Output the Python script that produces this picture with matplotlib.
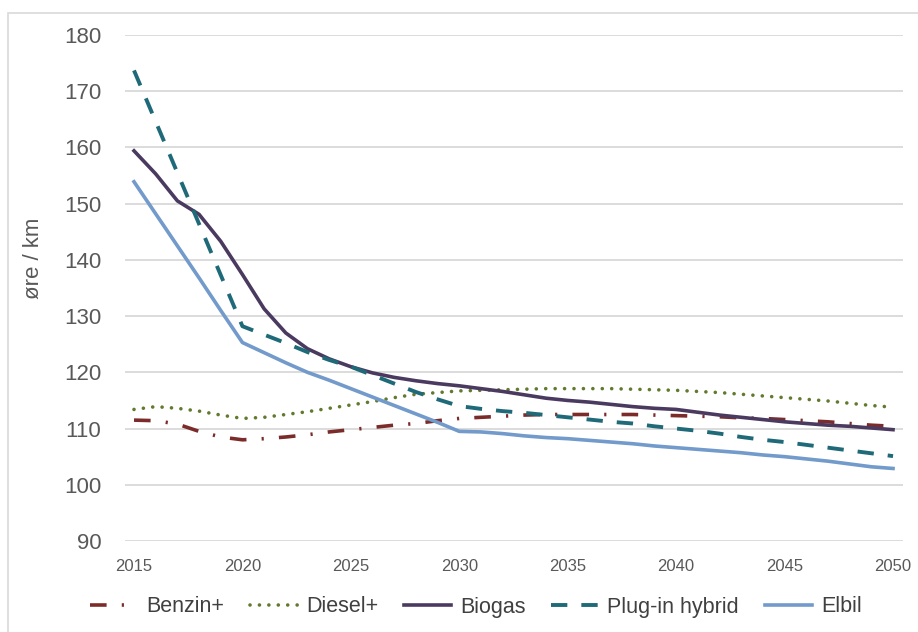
import matplotlib
matplotlib.use("Agg")
import matplotlib.pyplot as plt
from matplotlib.patches import Rectangle

years = list(range(2015, 2051))

benzin = [111.5, 111.4, 110.8, 109.5, 108.5, 108.0, 108.2, 108.5, 108.9, 109.4,
          109.8, 110.2, 110.6, 110.9, 111.4, 111.8, 112.0, 112.2, 112.4, 112.5,
          112.5, 112.5, 112.5, 112.5, 112.4, 112.3, 112.2, 112.1, 111.9, 111.8,
          111.6, 111.4, 111.2, 110.9, 110.6, 110.4]
diesel = [113.4, 113.9, 113.6, 113.1, 112.4, 111.8, 112.0, 112.5, 113.0, 113.6,
          114.2, 114.8, 115.5, 116.1, 116.4, 116.7, 116.8, 116.9, 117.0, 117.1,
          117.1, 117.1, 117.1, 117.0, 116.9, 116.8, 116.6, 116.4, 116.1, 115.8,
          115.5, 115.2, 114.9, 114.5, 114.1, 113.8]
biogas = [159.4, 155.3, 150.5, 148.1, 143.3, 137.4, 131.3, 127.0, 124.2, 122.4,
          121.0, 119.9, 119.1, 118.5, 118.0, 117.6, 117.1, 116.6, 116.0, 115.4,
          115.0, 114.7, 114.3, 113.9, 113.6, 113.4, 112.9, 112.4, 112.0, 111.6,
          111.2, 110.9, 110.6, 110.4, 110.1, 109.8]
plugin = [173.7, 164.6, 155.5, 146.4, 137.3, 128.2, 126.7, 125.2, 123.6, 122.2,
          121.0, 119.5, 118.0, 116.5, 115.2, 114.0, 113.5, 113.1, 112.8, 112.4,
          112.0, 111.6, 111.2, 110.9, 110.4, 110.0, 109.6, 109.1, 108.5, 108.0,
          107.6, 107.1, 106.6, 106.1, 105.6, 105.1]
elbil = [153.9, 148.2, 142.5, 136.8, 131.0, 125.3, 123.5, 121.7, 120.0, 118.6,
         117.1, 115.6, 114.1, 112.6, 111.1, 109.5, 109.4, 109.1, 108.7, 108.4,
         108.2, 107.9, 107.6, 107.3, 106.9, 106.6, 106.3, 106.0, 105.7, 105.3,
         105.0, 104.6, 104.2, 103.7, 103.2, 102.9]

xticks = [2015, 2020, 2025, 2030, 2035, 2040, 2045, 2050]
yticks = [90, 100, 110, 120, 130, 140, 150, 160, 170, 180]

plt.rcParams['font.family'] = ['Liberation Sans', 'DejaVu Sans']

fig = plt.figure(figsize=(9.18, 6.32), dpi=100)
# chart-area frame (left and top edges visible)
fig.patches.append(Rectangle((8 / 918, -0.1), 1.2, (632 - 13) / 632 + 0.1,
                             transform=fig.transFigure, fill=False,
                             edgecolor='#D9D9D9', linewidth=1.2))

ax = fig.add_axes([125 / 918, 91 / 632, 778 / 918, 506 / 632])

lw = 2.6
ax.plot(years, benzin, color='#7B2C2A', lw=lw, linestyle=(0, (4.6, 4.2, 0.6, 4.2)),
        dash_capstyle='butt', label='Benzin+')
ax.plot(years, diesel, color='#627A2E', lw=lw, linestyle=(0, (0.01, 2.6)),
        dash_capstyle='round', label='Diesel+')
ax.plot(years, biogas, color='#4B3A60', lw=lw, label='Biogas')
ax.plot(years, plugin, color='#1F6A78', lw=2.8, linestyle=(0, (4.2, 3.6)),
        dash_capstyle='butt', label='Plug-in hybrid')
ax.plot(years, elbil, color='#729ACB', lw=lw, label='Elbil')

ax.set_xlim(2014.585, 2050.46)
ax.set_ylim(90, 180)
ax.set_xticks(xticks)
ax.set_yticks(yticks)
ax.tick_params(axis='both', length=0, colors='#595959')
ax.tick_params(axis='y', labelsize=16, pad=17)
ax.tick_params(axis='x', labelsize=12, pad=13)
ax.grid(axis='y', color='#D9D9D9', linewidth=1.3)
ax.set_axisbelow(True)
for s in ax.spines.values():
    s.set_visible(False)

ax.set_ylabel('øre / km', fontsize=16, color='#595959')
ax.yaxis.set_label_coords((44 - 125) / 778, (541 - 258) / 506)

fig.legend(loc='center', bbox_to_anchor=(476 / 918, (632 - 607) / 632),
           ncol=5, frameon=False, fontsize=15.5, labelcolor='#404040',
           handlelength=2.2, columnspacing=1.2, handletextpad=0.4)

fig.savefig('out.png', dpi=100)
